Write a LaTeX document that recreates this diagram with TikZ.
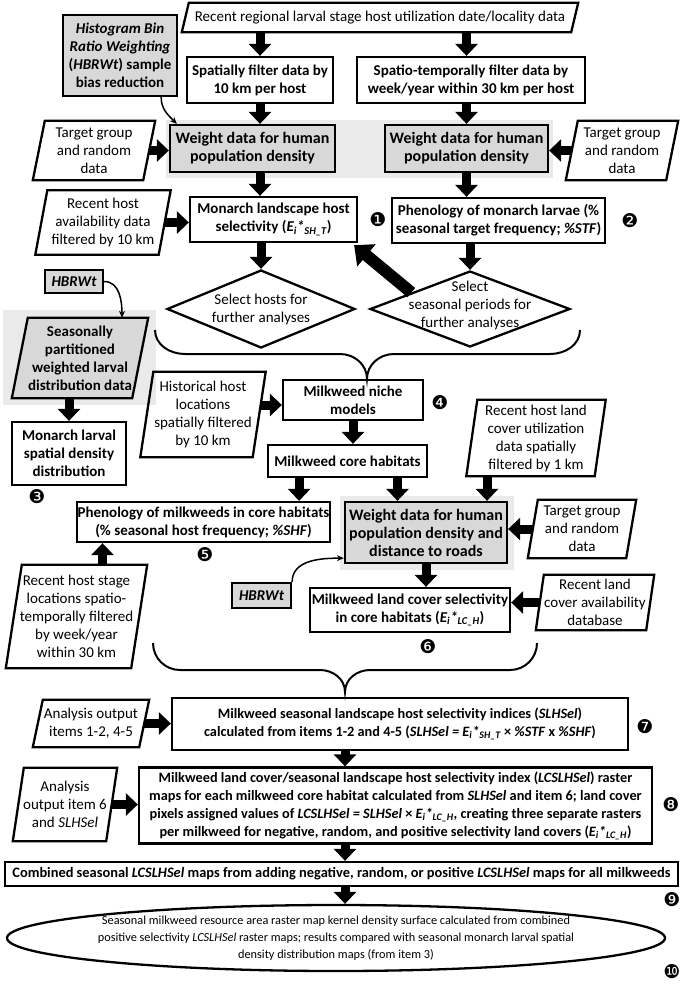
\documentclass[tikz,border=0pt]{standalone}
\usepackage{fontspec}
\setmainfont{Carlito}
\newfontfamily\djv{DejaVu Sans}
\usetikzlibrary{arrows.meta,shapes.geometric,calc,backgrounds}
\definecolor{boxgray}{RGB}{216,216,216}
\definecolor{bandgray}{RGB}{234,234,234}
\tikzset{
  txt/.style={align=center, inner sep=0pt, font=\fontsize{15}{18}\selectfont},
  box/.style={txt, draw, line width=2.3pt, font=\fontsize{15}{18}\selectfont\bfseries},
  gbox/.style={box, fill=boxgray},
  wbox/.style={gbox, font=\fontsize{16}{18}\selectfont\bfseries},
  hbox/.style={gbox, font=\fontsize{15}{18}\selectfont\bfseries\itshape},
  pnode/.style={txt},
  pframe/.style={draw, line width=2.3pt, line join=miter},
  dia/.style={diamond, draw, line width=2.3pt, inner sep=0pt, line join=miter},
  blk/.style={line width=9pt, -{Triangle[width=22pt,length=12pt]}},
  carrow/.style={line width=1.5pt, -{Stealth[length=7pt,width=6pt]}},
  brace/.style={line width=2pt},
  num/.style={inner sep=0pt, font=\djv\fontsize{19}{19}\selectfont},
}
\begin{document}
\begin{tikzpicture}[x=1pt,y=1pt]
\useasboundingbox (0,0) rectangle (685,-985);

% ---------- upper part
\node[pnode, minimum width=389pt, minimum height=29pt] (top) at (380,-17.5) {Recent regional larval stage host utilization date/locality data};
\node[gbox, minimum width=114pt, minimum height=81pt] (hb1) at (120,-55.5) {\textit{Histogram Bin}\\\textit{Ratio Weighting}\\(\textit{HBRWt}) sample\\bias reduction};
\node[box, minimum width=146pt, minimum height=46pt] (sp1) at (260,-80) {Spatially filter data by\\10 km per host};
\node[box, minimum width=228pt, minimum height=46pt] (sp2) at (471,-80) {Spatio-temporally filter data by\\week/year within 30 km per host};
\node[wbox, minimum width=165pt, minimum height=47pt] (w1) at (252.5,-148.5) {Weight data for human\\population density};
\node[wbox, minimum width=163pt, minimum height=47pt] (w2) at (466.5,-148.5) {Weight data for human\\population density};
\node[pnode, minimum width=110pt, minimum height=59pt] (tg1) at (94,-150.5) {Target group\\and random\\data};
\node[pnode, minimum width=100pt, minimum height=59pt] (tg2) at (622,-150.5) {Target group\\and random\\data};
\node[box, minimum width=167pt, minimum height=45pt] (ms) at (273.5,-219.5) {Monarch landscape host\\selectivity (\textit{E\textsubscript{i}*\textsubscript{SH\_T}})};
\node[pnode, minimum width=123pt, minimum height=64pt] (ra) at (103,-222.5) {Recent host\\availability data\\filtered by 10 km};
\node[num] (n1) at (378,-220) {❶};
\node[box, minimum width=213pt, minimum height=45pt] (pm) at (498.5,-220.5) {Phenology of monarch larvae (\%\\seasonal target frequency; \textit{\%STF})};
\node[num] (n2) at (630,-221) {❷};
\node[dia, minimum width=188pt, minimum height=78pt] (d1) at (261,-309) {};
\node[txt] (d1t) at (d1) {Select hosts for\\further analyses};
\node[dia, minimum width=200pt, minimum height=76pt] (d2) at (470,-309) {};
\node[txt] (d2t) at (470,-305) {Select\\seasonal periods for\\further analyses};

% ---------- middle part
\node[hbox, minimum width=58pt, minimum height=23pt] (hb2) at (74,-281.5) {HBRWt};
\node[txt, font=\fontsize{15}{18}\selectfont\bfseries, minimum width=120pt, minimum height=80pt] (ss) at (80,-358) {Seasonally\\partitioned\\weighted larval\\distribution data};
\node[box, minimum width=114pt, minimum height=63pt] (ml) at (69,-453.5) {Monarch larval\\spatial density\\distribution};
\node[num] (n3) at (37,-497) {❸};
\node[pnode, minimum width=112pt, minimum height=85pt] (hi) at (203,-414.5) {Historical host\\locations\\spatially filtered\\by 10 km};
\node[box, minimum width=140pt, minimum height=40pt] (nm) at (353,-400) {Milkweed niche\\models};
\node[num] (n4) at (440,-403) {❹};
\node[box, minimum width=159pt, minimum height=32pt] (ch) at (347.5,-461) {Milkweed core habitats};
\node[pnode, minimum width=128pt, minimum height=76pt] (rl) at (536,-438) {Recent host land\\cover utilization\\data spatially\\filtered by 1 km};
\node[box, minimum width=253pt, minimum height=40pt] (pk) at (203.5,-522) {Phenology of milkweeds in core habitats\\(\% seasonal host frequency; \textit{\%SHF})};
\node[num] (n5) at (205,-555) {❺};
\node[wbox, minimum width=162pt, minimum height=61pt] (w3) at (426,-532.5) {Weight data for human\\population density and\\distance to roads};
\node[pnode, minimum width=98pt, minimum height=58pt] (tg3) at (582,-529) {Target group\\and random\\data};
\node[pnode, minimum width=125pt, minimum height=103pt] (rs) at (76.5,-616.5) {Recent host stage\\locations spatio-\\temporally filtered\\by week/year\\within 30 km};
\node[hbox, minimum width=59pt, minimum height=25pt] (hb3) at (261.5,-595.5) {HBRWt};
\node[box, minimum width=200pt, minimum height=44pt] (lc) at (410,-610) {Milkweed land cover selectivity\\in core habitats (\textit{E\textsubscript{i}*\textsubscript{LC\_H}})};
\node[num] (n6) at (428,-647) {❻};
\node[pnode, minimum width=110pt, minimum height=55pt] (rc) at (595,-602.5) {Recent land\\cover availability\\database};

% ---------- lower part
\node[pnode, minimum width=106pt, minimum height=47pt] (ao1) at (91,-723.5) {Analysis output\\items 1-2, 4-5};
\node[box, font=\fontsize{14.3}{18}\selectfont\bfseries, minimum width=456pt, minimum height=52pt] (sl) at (400,-724) {Milkweed seasonal landscape host selectivity indices (\textit{SLHSel})\\calculated from items 1-2 and 4-5 (\textit{SLHSel = E\textsubscript{i}*\textsubscript{SH\_T}} × \textit{\%STF} x \textit{\%SHF})};
\coordinate (b2tip) at (345,-692);
\node[num] (n7) at (645,-727) {❼};
\node[pnode, minimum width=93pt, minimum height=73pt] (ao2) at (65,-804.5) {Analysis\\output item 6\\and \textit{SLHSel}};
\node[box, font=\fontsize{14.3}{18}\selectfont\bfseries, minimum width=513pt, minimum height=76pt] (lcs) at (395.5,-805.5) {Milkweed land cover/seasonal landscape host selectivity index (\textit{LCSLHSel}) raster\\maps for each milkweed core habitat calculated from \textit{SLHSel} and item 6; land cover\\pixels assigned values of \textit{LCSLHSel = SLHSel} × \textit{E\textsubscript{i}*\textsubscript{LC\_H}}, creating three separate rasters\\per milkweed for negative, random, and positive selectivity land covers (\textit{E\textsubscript{i}*\textsubscript{LC\_H}})};
\node[num] (n8) at (671,-805) {❽};
\node[box, font=\fontsize{14.4}{16}\selectfont\bfseries, minimum width=673pt, minimum height=24pt] (cb) at (341.5,-874) {Combined seasonal \textit{LCSLHSel} maps from adding negative, random, or positive \textit{LCSLHSel} maps for all milkweeds};
\node[num] (n9) at (672,-900) {❾};
\node[ellipse, draw, line width=2.3pt, inner sep=0pt, minimum width=658pt, minimum height=66pt] (el) at (336,-938) {};
\node[txt, font=\fontsize{12.3}{17}\selectfont] (elt) at (el) {Seasonal milkweed resource area raster map kernel density surface calculated from combined\\positive selectivity \textit{LCSLHSel} raster maps; results compared with seasonal monarch larval spatial\\density distribution maps (from item 3)};
\node[num] (n10) at (672,-972) {❿};

% ---------- background: bands and parallelogram frames
\begin{scope}[on background layer]
  \fill[bandgray] (166,-120) rectangle (553,-178);
  \fill[bandgray] (340,-496) rectangle (514,-570);
  \fill[bandgray] (3,-310) rectangle (156,-405);
  \draw[pframe, fill=boxgray] ($(ss.north west)+(8,0)$) -- ($(ss.north east)+(8,0)$) -- ($(ss.south east)+(-8,0)$) -- ($(ss.south west)+(-8,0)$) -- cycle;
  \foreach \n/\s in {top/3.5, tg1/6, tg2/6, ra/6, hi/6.5, rl/5.5, tg3/5, rs/8, rc/4, ao1/5, ao2/5.5}
    \draw[pframe] ($(\n.north west)+(\s,0)$) -- ($(\n.north east)+(\s,0)$) -- ($(\n.south east)+(-\s,0)$) -- ($(\n.south west)+(-\s,0)$) -- cycle;
\end{scope}

% ---------- connectors
\draw[blk] (top.south -| sp1.north) -- (sp1.north);
\draw[blk] (top.south -| w2.north) -- (sp2.north -| w2.north);
\draw[blk] (sp1.south) -- (sp1.south |- w1.north);
\draw[blk] (sp2.south -| w2.north) -- (w2.north);
\draw[blk] (tg1.east) -- (tg1.east -| w1.west);
\draw[blk] (tg2.west) -- (tg2.west -| w2.east);
\draw[blk] (w1.south -| sp1.south) -- (ms.north -| sp1.south);
\draw[blk] (w2.south) -- (w2.south |- pm.north);
\draw[blk] (ra.east) -- (ra.east -| ms.west);
\draw[blk] (ms.south -| d1.north) -- (d1.north);
\draw[blk] (pm.south -| d2.north) -- (d2.north);
\draw[line width=12pt, -{Triangle[width=28pt,length=16pt]}] ($(d2.north)!0.58!(d2.west)$) -- ($(ms.south east)+(-4,-2)$);
\draw[carrow] ($(hb1.south east)+(-17,0)$) to[out=-90,in=135] ($(w1.north west)+(8,0)$);
\draw[carrow] (hb2.east) to[out=0,in=90] ($(ss.north)+(42,0)$);
\draw[blk] (ml.north |- ss.south) -- (ml.north);
\draw[blk] ($(hi.east |- nm.west)+(1,-5)$) -- ($(nm.west)+(0,-5)$);
\draw[blk] (nm.south) -- (nm.south |- ch.north);
\coordinate (chA) at ($(ch.south west)!0.2!(ch.south east)$);
\coordinate (chB) at ($(ch.south west)!0.81!(ch.south east)$);
\draw[blk] (chA) -- (chA |- pk.north);
\draw[blk] (chB) -- (chB |- w3.north);
\coordinate (rlA) at ($(rl.south)+(-49,0)$);
\draw[blk] (rlA) -- (rlA |- w3.north);
\draw[blk] (tg3.west) -- (tg3.west -| w3.east);
\coordinate (rsA) at ($(rs.north)+(26,0)$);
\draw[blk] (rsA) -- (rsA |- pk.south);
\draw[blk] (w3.south) -- (w3.south |- lc.north);
\draw[blk] (rc.west) -- (rc.west -| lc.east);
\draw[carrow] (hb3.north east) to[out=90,in=180] ($(w3.south west)+(0,6)$);
\draw[blk] (ao1.east) -- (ao1.east -| sl.west);
\draw[blk] (sl.south -| b2tip) -- (lcs.north -| b2tip);
\draw[blk] (ao2.east) -- (ao2.east -| lcs.west);
\draw[blk] (lcs.south -| b2tip) -- (cb.north -| b2tip);
\draw[blk] (cb.south -| b2tip) -- (el.north -| b2tip);

% ---------- braces
\coordinate (b1tip) at ($(nm.north)+(14,0)$);
\draw[brace] (155,-330) to[out=-90,in=180] (185,-354) -- (340,-354) to[out=0,in=90] (b1tip) to[out=90,in=180] (394,-354) -- (550,-354) to[out=0,in=-90] (580,-330);
\draw[brace] (153,-643) to[out=-90,in=180] (180,-670) -- (320,-670) to[out=0,in=90] (b2tip) to[out=90,in=180] (370,-670) -- (510,-670) to[out=0,in=-90] (537,-643);
\end{tikzpicture}
\end{document}
